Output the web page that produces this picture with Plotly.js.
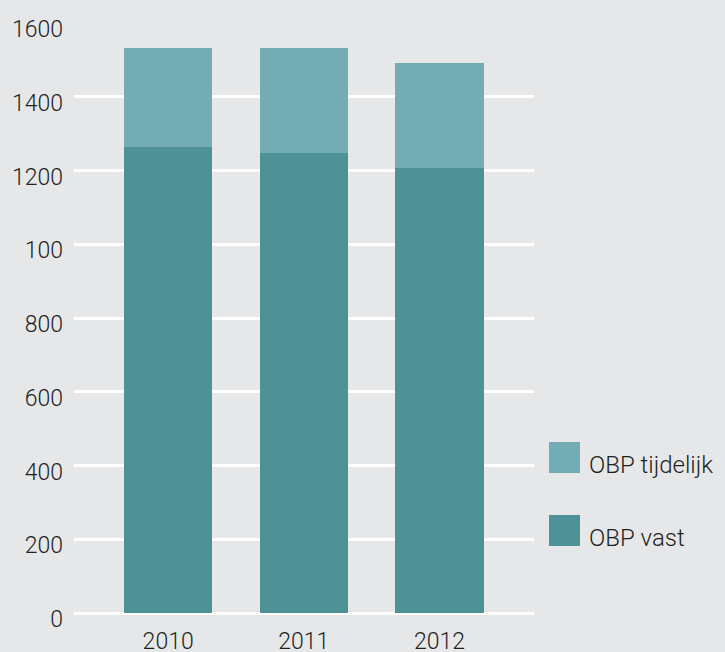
<!DOCTYPE html>
<html>
<head>
<meta charset="utf-8">
<script src="https://cdn.plot.ly/plotly-3.0.1.min.js"></script>
<style>html,body{margin:0;padding:0;background:#e6e7e8;}#chart{width:725px;height:652px;}</style>
</head>
<body>
<div id="chart"></div>
<script>
var years = ['2010', '2011', '2012'];
var obpVast = [1264, 1248, 1207];
var obpTijdelijk = [269, 285, 285];
var seriesNames = ['OBP vast', 'OBP tijdelijk'];
var yTickVals = [0, 200, 400, 600, 800, 1000, 1200, 1400, 1600];
var yTickText = ['0', '200', '400', '600', '800', '100', '1200', '1400', '1600'];

var colVast = '#4e9196';
var colTijd = '#72adb5';
var W = 725, H = 652, L = 74, R = 191, T = 23, B = 39;
var pw = W - L - R, ph = H - T - B;
function px(x) { return (x - L) / pw; }
function py(y) { return (H - B - y) / ph; }

var font = {family: 'Roboto, sans-serif', size: 23, color: '#1f1f1f', weight: 300};
var legFont = {family: 'Roboto, sans-serif', size: 24, color: '#1f1f1f', weight: 300};

var traces = [
  {type: 'bar', x: years, y: obpVast, name: seriesNames[0], marker: {color: colVast}, width: 0.65, hoverinfo: 'y'},
  {type: 'bar', x: years, y: obpTijdelijk, name: seriesNames[1], marker: {color: colTijd}, width: 0.65, hoverinfo: 'y'}
];

var layout = {
  width: W, height: H,
  margin: {l: L, r: R, t: T, b: B, pad: 0},
  paper_bgcolor: '#e6e7e8',
  plot_bgcolor: '#e6e7e8',
  barmode: 'stack',
  showlegend: false,
  font: font,
  xaxis: {
    type: 'category', range: [-0.694, 2.697], showgrid: false, zeroline: false,
    showline: false, ticks: '', tickfont: font, ticklabelstandoff: 12, fixedrange: true
  },
  yaxis: {
    range: [0, 1600], tickvals: yTickVals, ticktext: yTickText,
    showgrid: true, gridcolor: '#ffffff', gridwidth: 3,
    zeroline: true, zerolinecolor: '#ffffff', zerolinewidth: 3,
    showline: false, ticks: '', tickfont: font, ticklabelstandoff: 10, ticklabelshift: 6, fixedrange: true
  },
  shapes: [
    {type: 'rect', xref: 'paper', yref: 'paper', x0: px(549), x1: px(580), y0: py(473), y1: py(442), fillcolor: colTijd, line: {width: 0}},
    {type: 'rect', xref: 'paper', yref: 'paper', x0: px(549), x1: px(580), y0: py(546), y1: py(515), fillcolor: colVast, line: {width: 0}}
  ],
  annotations: [
    {xref: 'paper', yref: 'paper', x: px(587), y: py(465), xanchor: 'left', yanchor: 'middle', text: seriesNames[1], showarrow: false, font: legFont},
    {xref: 'paper', yref: 'paper', x: px(587), y: py(538), xanchor: 'left', yanchor: 'middle', text: seriesNames[0], showarrow: false, font: legFont}
  ]
};

Plotly.newPlot('chart', traces, layout, {displayModeBar: false, staticPlot: true});
</script>
</body>
</html>
